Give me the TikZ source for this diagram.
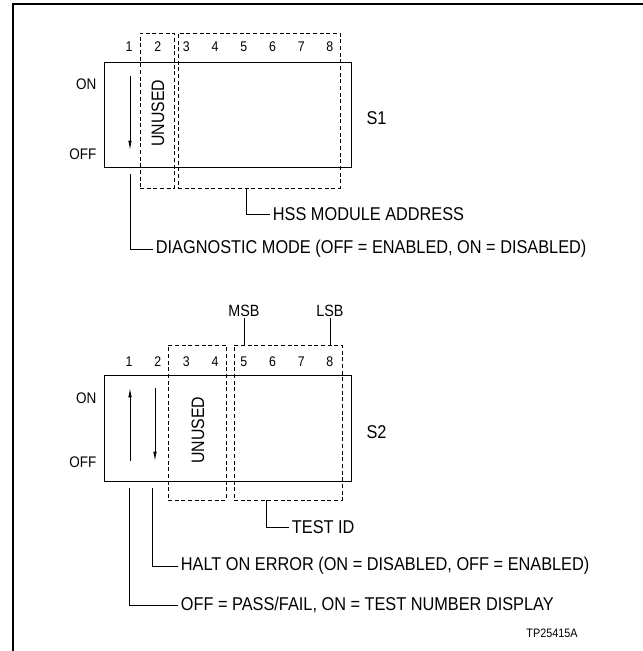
\documentclass[tikz,border=0pt]{standalone}
\usepackage{fontspec}
\setmainfont[FakeStretch=0.88]{Liberation Sans}
\usetikzlibrary{arrows.meta,positioning,calc}
\tikzset{
  frameline/.style={line width=0.9pt},
  switchbox/.style={draw, line width=0.75pt, minimum width=185.25pt, minimum height=78.75pt, inner sep=0pt},
  groupbox/.style={draw, dash pattern=on 3pt off 2pt, line width=0.6pt, inner sep=0pt, minimum height=116.25pt},
  num/.style={font=\fontsize{10.5}{12}\selectfont, inner sep=1pt},
  state/.style={font=\fontsize{11.5}{13}\selectfont, inner sep=1pt, anchor=east},
  swname/.style={font=\fontsize{13.9}{16}\selectfont, anchor=west, inner sep=1pt},
  unused/.style={font=\fontsize{13.5}{16}\selectfont, rotate=90, inner sep=1pt},
  bitlbl/.style={font=\fontsize{12.2}{14}\selectfont, inner sep=1pt},
  callout/.style={font=\fontsize{13.9}{16}\selectfont, anchor=west, inner sep=2pt},
  leader/.style={line width=0.6pt},
  toggle/.style={-{Latex[length=7pt,width=2.6pt]}, line width=0.6pt},
  figid/.style={font=\fontsize{9.2}{11}\selectfont}
}
\begin{document}
\begin{tikzpicture}[x=0.75pt, y=-0.75pt]
  \useasboundingbox (0,0) rectangle (643,651);
  \draw[frameline] (13,651) -- (13,4) -- (643,4);

  % S1
  \node[switchbox] (s1) at (227.5,114.5) {};
  \node[groupbox, minimum width=25.5pt] (s1unused) at (157,110.5) {};
  \node[groupbox, minimum width=121.5pt] (s1addr) at (259,110.5) {};
  \foreach \i in {1,...,8}
    \node[num] (s1n\i) at ({129+28.7*(\i-1)},47) {\i};
  \node[state] (s1on) at (98,84) {ON};
  \node[state] (s1off) at (98,154) {OFF};
  \node[swname] (s1name) at (365,118) {S1};
  \node[unused] (s1un) at (158,113) {UNUSED};
  \coordinate (s1a1top) at (130,76);
  \coordinate (s1a1bot) at (130,150);
  \draw[toggle] (s1a1top) -- (s1a1bot);

  \node[callout] (hsslbl) at (270,214) {HSS MODULE ADDRESS};
  \node[callout] (diaglbl) at (153,249) {DIAGNOSTIC MODE (OFF = ENABLED, ON = DISABLED)};
  \coordinate (addrtap) at ($(s1addr.south west)+(69,0)$);
  \coordinate (diagtap) at (130,174);
  \draw[leader] (addrtap) |- (hsslbl.west);
  \draw[leader] (diagtap) |- (diaglbl.west);

  % S2
  \node[bitlbl] (msb) at (244,311) {MSB};
  \node[bitlbl] (lsb) at (330,311) {LSB};
  \node[switchbox, minimum height=79.5pt] (s2) at (227.5,428) {};
  \node[groupbox, minimum width=43.5pt] (s2unused) at (197,422.5) {};
  \node[groupbox, minimum width=81pt] (s2test) at (288,422.5) {};
  \foreach \i in {1,...,8}
    \node[num] (s2n\i) at ({129+28.7*(\i-1)},362) {\i};
  \draw[leader] (msb.south) -- (msb.south |- s2test.north);
  \draw[leader] (lsb.south) -- (lsb.south |- s2test.north);
  \node[state] (s2on) at (98,398) {ON};
  \node[state] (s2off) at (98,462) {OFF};
  \node[swname] (s2name) at (365,432) {S2};
  \node[unused] (s2un) at (198,430) {UNUSED};
  \coordinate (s2a1bot) at (130,461);
  \coordinate (s2a1top) at (130,388);
  \coordinate (s2a2top) at (155,388);
  \coordinate (s2a2bot) at (155,461);
  \draw[toggle] (s2a1bot) -- (s2a1top);
  \draw[toggle] (s2a2top) -- (s2a2bot);

  \node[callout] (testlbl) at (289,527) {TEST ID};
  \node[callout] (haltlbl) at (178,566) {HALT ON ERROR (ON = DISABLED, OFF = ENABLED)};
  \node[callout] (passlbl) at (178,605) {OFF = PASS/FAIL, ON = TEST NUMBER DISPLAY};
  \coordinate (testtap) at ($(s2test.south west)+(33,0)$);
  \coordinate (halttap) at (152,488);
  \coordinate (passtap) at (129,488);
  \draw[leader] (testtap) |- (testlbl.west);
  \draw[leader] (halttap) |- (haltlbl.west);
  \draw[leader] (passtap) |- (passlbl.west);

  \node[figid] (fig) at (552,633) {TP25415A};
\end{tikzpicture}
\end{document}
